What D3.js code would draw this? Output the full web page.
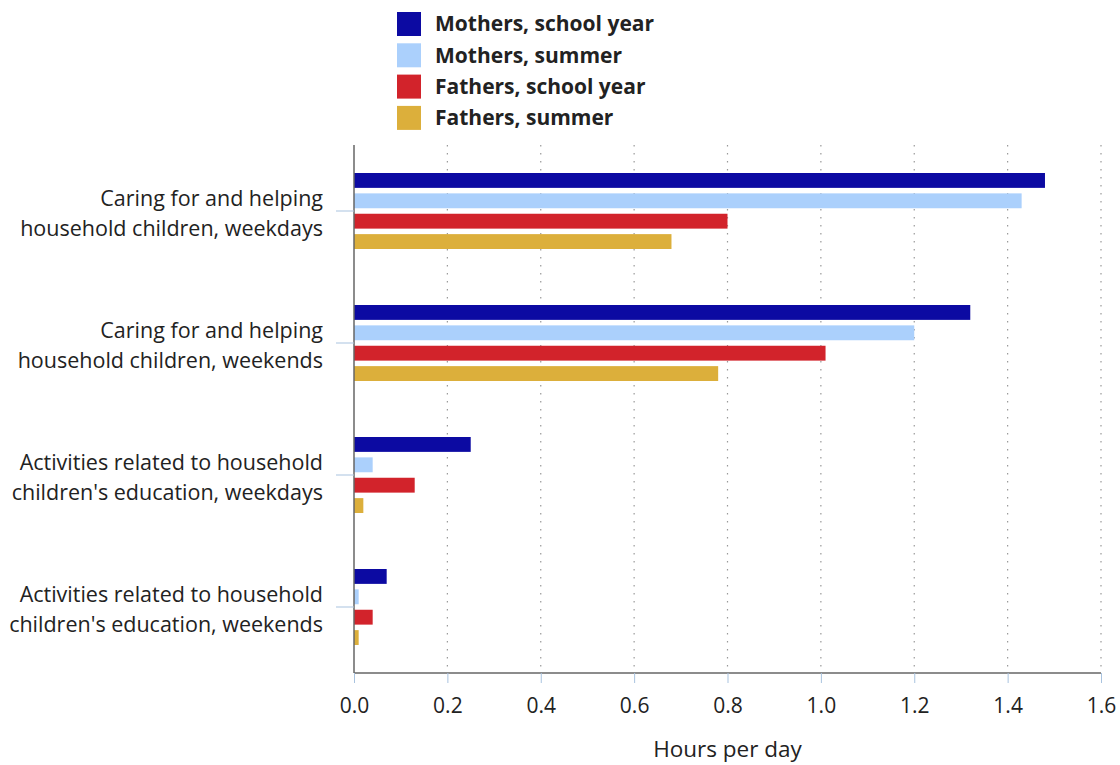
<!DOCTYPE html>
<html><head><meta charset="utf-8">
<script src="https://cdn.jsdelivr.net/npm/d3@7"></script>
<style>body{margin:0;background:#fff}svg{display:block}text{font-family:"Open Sans",sans-serif;fill:#222}</style>
</head><body><svg id="c" width="1120" height="765"></svg>
<script>
const categories = [
  ["Caring for and helping", "household children, weekdays"],
  ["Caring for and helping", "household children, weekends"],
  ["Activities related to household", "children's education, weekdays"],
  ["Activities related to household", "children's education, weekends"]
];
const seriesNames = ["Mothers, school year", "Mothers, summer", "Fathers, school year", "Fathers, summer"];
const seriesColors = ["#0c0aa2", "#abd0fc", "#d2232b", "#dcaf3b"];
const mothersSchoolYear = [1.48, 1.32, 0.25, 0.07];
const mothersSummer = [1.43, 1.20, 0.04, 0.01];
const fathersSchoolYear = [0.80, 1.01, 0.13, 0.04];
const fathersSummer = [0.68, 0.78, 0.02, 0.01];
const xTicks = [0, 0.2, 0.4, 0.6, 0.8, 1.0, 1.2, 1.4, 1.6];
const xTitle = "Hours per day";

(function(){
const values = [mothersSchoolYear, mothersSummer, fathersSchoolYear, fathersSummer];
const svg = d3.select("#c");
const mL = 354, mR = 1101, mT = 145, mB = 673;
const x = d3.scaleLinear().domain([0, 1.6]).range([mL, mR]);
const y = d3.scaleBand().domain(d3.range(categories.length)).range([mT, mB]).paddingInner(0).paddingOuter(0);
const inner = d3.scaleBand().domain(d3.range(seriesNames.length)).range([y.bandwidth()/2 - 38, y.bandwidth()/2 + 38]).paddingInner(0.27).paddingOuter(0);

// grid
svg.append("g").selectAll("line").data(xTicks.filter(d => d > 0)).join("line")
  .attr("x1", d => x(d)).attr("x2", d => x(d)).attr("y1", mT).attr("y2", mB)
  .attr("stroke", "#999").attr("stroke-width", 1.2).attr("stroke-dasharray", "1.5,6.5");

// bars
const g = svg.append("g");
values.forEach((vals, s) => {
  g.append("g").selectAll("rect").data(vals).join("rect")
    .attr("x", x(0)).attr("y", (d, i) => y(i) + inner(s))
    .attr("width", d => x(d) - x(0)).attr("height", inner.bandwidth())
    .attr("fill", seriesColors[s]);
});

// x axis
const xAxis = d3.axisBottom(x).tickValues(xTicks).tickFormat(d3.format(".1f")).tickSize(10);
const xg = svg.append("g").attr("transform", `translate(0,${mB})`).call(xAxis);
xg.select(".domain").attr("stroke", "#666").attr("stroke-width", 1.5).attr("d", `M${mL},0H${mR}`);
xg.selectAll(".tick line").attr("stroke", "#a9c3df");
xg.selectAll(".tick text").style("font-size", "21px").attr("fill", "#222").attr("y", 40).attr("dy", 0);

// y axis
const yAxis = d3.axisLeft(y).tickSize(18).tickFormat("");
const yg = svg.append("g").attr("transform", `translate(${mL},0)`).call(yAxis);
yg.select(".domain").attr("stroke", "#666").attr("stroke-width", 1.5).attr("d", `M0,${mT}V${mB}`);
yg.selectAll(".tick line").attr("stroke", "#a9c3df");

// category labels
const lab = svg.append("g").selectAll("text").data(categories).join("text")
  .attr("text-anchor", "end").attr("x", 323).attr("y", (d, i) => y(i) + y.bandwidth()/2)
  .style("font-size", "21.5px");
lab.selectAll("tspan").data(d => d).join("tspan")
  .attr("x", 323).attr("dy", (d, j) => j === 0 ? -5 : 30).text(d => d);

// axis title
svg.append("text").attr("x", (mL + mR)/2).attr("y", 757).attr("text-anchor", "middle")
  .style("font-size", "22.5px").text(xTitle);

// legend
const lg = svg.append("g").selectAll("g").data(seriesNames).join("g")
  .attr("transform", (d, i) => `translate(397,${12 + i*31.3})`);
lg.append("rect").attr("width", 24).attr("height", 24).attr("fill", (d, i) => seriesColors[i]);
lg.append("text").attr("x", 38).attr("y", 12).attr("dy", "0.35em").style("font-size", "21px")
  .style("font-weight", "bold").attr("fill", "#111").text(d => d);
})();
</script></body></html>
